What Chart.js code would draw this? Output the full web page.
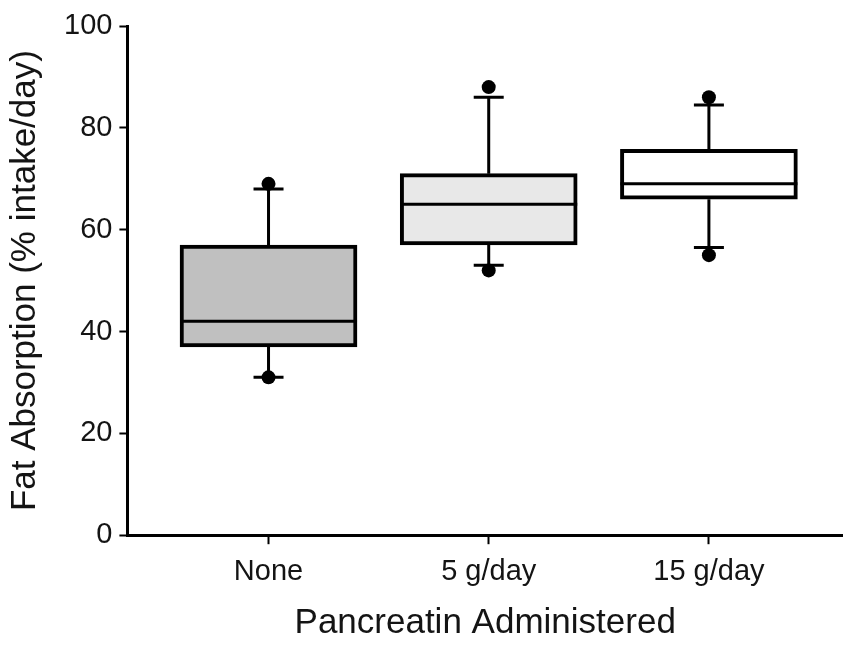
<!DOCTYPE html>
<html><head><meta charset="utf-8">
<script src="https://cdn.jsdelivr.net/npm/chart.js@4.4.1/dist/chart.umd.min.js"></script>
<style>html,body{margin:0;padding:0;background:#fff;} #wrap{width:843px;height:645px;}</style>
</head><body><div id="wrap"><canvas id="c" width="843" height="645"></canvas></div>
<script>
const categories = ['None', '5 g/day', '15 g/day'];
const whiskerLow = [31, 53, 56.5];
const q1 = [37, 57, 66];
const median = [42, 65, 69];
const q3 = [57, 71, 75.8];
const whiskerHigh = [68, 86, 84.5];
const dotLow = [31, 52, 55];
const dotHigh = [69, 88, 86];
const yTicks = [0, 20, 40, 60, 80, 100];
const boxColors = ['#c0c0c0', '#e8e8e8', '#ffffff'];

const FONT = 'Liberation Sans, Arial, Helvetica, sans-serif';
const TEXT = '#141414';

const boxPlugin = {
  id: 'boxWhiskers',
  beforeDatasetsDraw(chart) {
    const {ctx, scales: {x, y}} = chart;
    ctx.save();
    ctx.strokeStyle = '#000';
    ctx.lineWidth = 3;
    categories.forEach((c, i) => {
      const px = x.getPixelForValue(i + 1);
      const hi = y.getPixelForValue(whiskerHigh[i]);
      const lo = y.getPixelForValue(whiskerLow[i]);
      ctx.beginPath();
      ctx.moveTo(px, y.getPixelForValue(q3[i])); ctx.lineTo(px, hi);
      ctx.moveTo(px, y.getPixelForValue(q1[i])); ctx.lineTo(px, lo);
      ctx.moveTo(px - 15, hi); ctx.lineTo(px + 15, hi);
      ctx.moveTo(px - 15, lo); ctx.lineTo(px + 15, lo);
      ctx.stroke();
    });
    ctx.restore();
  },
  afterDatasetsDraw(chart) {
    const {ctx, scales: {y}} = chart;
    const meta = chart.getDatasetMeta(1);
    ctx.save();
    ctx.strokeStyle = '#000';
    ctx.lineWidth = 3;
    meta.data.forEach((el, i) => {
      const py = y.getPixelForValue(median[i]);
      ctx.beginPath();
      ctx.moveTo(el.x - el.width / 2, py);
      ctx.lineTo(el.x + el.width / 2, py);
      ctx.stroke();
    });
    ctx.restore();
  }
};

const dots = [];
categories.forEach((c, i) => {
  dots.push({x: i + 1, y: dotLow[i]});
  dots.push({x: i + 1, y: dotHigh[i]});
});

new Chart(document.getElementById('c'), {
  type: 'bar',
  data: {
    datasets: [
      {
        type: 'scatter',
        data: dots,
        pointRadius: 7,
        pointBackgroundColor: '#000',
        pointBorderColor: '#000',
        pointBorderWidth: 0,
        order: 0
      },
      {
        type: 'bar',
        data: categories.map((c, i) => ({x: i + 1, y: [q1[i], q3[i]]})),
        backgroundColor: boxColors,
        borderColor: '#000',
        borderWidth: 4,
        borderSkipped: false,
        barThickness: 177,
        order: 1
      }
    ]
  },
  options: {
    responsive: false,
    animation: false,
    devicePixelRatio: 1,
    layout: {autoPadding: false, padding: {top: 26, right: 0, left: 0, bottom: 0}},
    plugins: {legend: {display: false}, tooltip: {enabled: false}},
    scales: {
      x: {
        type: 'linear',
        min: 0.359,
        max: 3.609,
        offset: false,
        grid: {offset: false, drawOnChartArea: false, tickLength: 9, tickWidth: 2, tickColor: '#000'},
        border: {display: true, color: '#000', width: 3},
        afterBuildTicks: s => { s.ticks = categories.map((c, i) => ({value: i + 1})); },
        ticks: {
          callback: v => categories[v - 1],
          font: {family: FONT, size: 29},
          color: TEXT,
          padding: 10,
          maxRotation: 0,
          autoSkip: false
        },
        title: {
          display: true,
          text: 'Pancreatin Administered',
          font: {family: FONT, size: 35},
          color: TEXT,
          padding: {top: 3, bottom: 1}
        }
      },
      y: {
        type: 'linear',
        min: 0,
        max: 100,
        afterBuildTicks: s => { s.ticks = yTicks.map(v => ({value: v})); },
        grid: {drawOnChartArea: false, tickLength: 8, tickWidth: 2, tickColor: '#000'},
        border: {display: true, color: '#000', width: 3},
        ticks: {
          font: {family: FONT, size: 29},
          color: TEXT,
          padding: 7
        },
        title: {
          display: true,
          text: 'Fat Absorption (% intake/day)',
          font: {family: FONT, size: 35},
          color: TEXT,
          padding: {top: 4, bottom: 11}
        }
      }
    }
  },
  plugins: [boxPlugin]
});
</script>
</body></html>
